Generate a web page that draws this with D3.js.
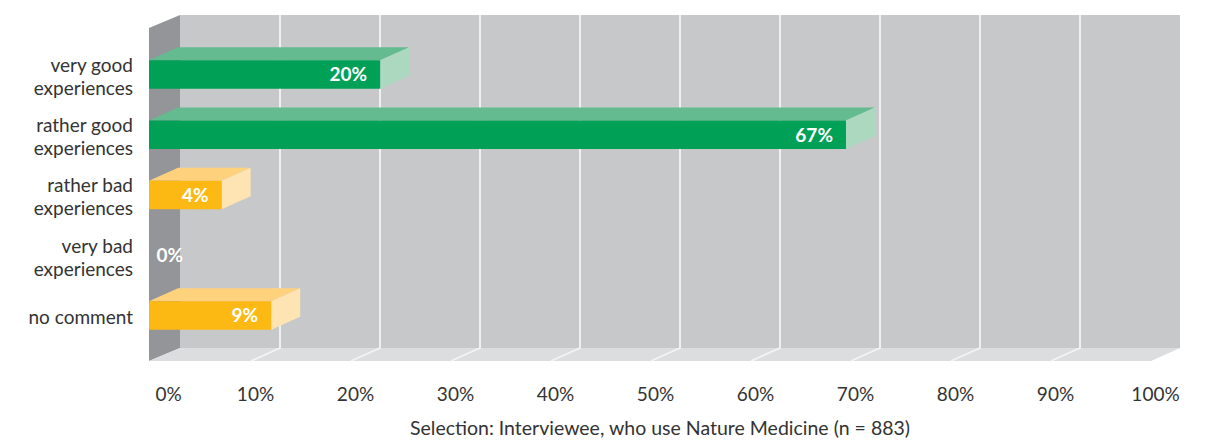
<!DOCTYPE html>
<html>
<head>
<meta charset="utf-8">
<script src="https://cdn.jsdelivr.net/npm/d3@7"></script>
<style>
  body { margin: 0; background: #fff; }
  svg text { font-family: Lato, "Open Sans", sans-serif; }
</style>
</head>
<body>
<div id="chart"></div>
<script>
// data
var categories = ["very good\nexperiences", "rather good\nexperiences", "rather bad\nexperiences", "very bad\nexperiences", "no comment"];
var values = [20, 67, 4, 0, 9];
var tones = ["good", "good", "bad", "bad", "bad"];
var ticks = [0, 10, 20, 30, 40, 50, 60, 70, 80, 90, 100];
var note = "Selection: Interviewee, who use Nature Medicine (n = 883)";

var W = 1208, H = 446;
var depth = {dx: 29, dy: 13};
var front = 149, wallTop = 15, floorBack = 348;

var colors = {
  good: {front: "#00a057", top: "#63bb8f", side: "#abd8bf"},
  bad:  {front: "#fdb913", top: "#fed27c", side: "#ffe4b3"}
};

var svg = d3.select("#chart").append("svg")
  .attr("width", W).attr("height", H);

// back wall scale (grid), bar scale and label scale
var x = d3.scaleLinear().domain([0, 100]).range([180, 1180]);
var xb = d3.scaleLinear().domain([0, 100]).range([182, 1173]);
var xl = d3.scaleLinear().domain([0, 100]).range([155, 1155]);
var y = d3.scalePoint().domain(categories).range([74.5, 315.5]);
var barH = 28.5;

// walls
svg.append("rect")
  .attr("x", x(0)).attr("y", wallTop)
  .attr("width", x(100) - x(0)).attr("height", floorBack - wallTop)
  .attr("fill", "#c7c8ca");

svg.append("polygon")
  .attr("points", [[front, wallTop + depth.dy], [x(0), wallTop], [x(0), floorBack], [front, floorBack + depth.dy]].join(" "))
  .attr("fill", "#939598");

svg.append("polygon")
  .attr("points", [[front, floorBack + depth.dy], [x(0), floorBack], [x(100), floorBack], [x(100) - depth.dx, floorBack + depth.dy]].join(" "))
  .attr("fill", "#dcddde");

// grid
var grid = ticks.slice(1, -1);
svg.selectAll(".grid").data(grid).enter().append("polyline")
  .attr("class", "grid")
  .attr("points", function(d) {
    return [[x(d), wallTop], [x(d), floorBack], [x(d) - depth.dx, floorBack + depth.dy]].join(" ");
  })
  .attr("fill", "none").attr("stroke", "#f4f4f4").attr("stroke-width", 1.8);

// bars
var bars = svg.selectAll(".bar").data(categories).enter().append("g").attr("class", "bar");

bars.filter(function(d, i) { return values[i] > 0; }).each(function(d) {
  var i = categories.indexOf(d);
  var g = d3.select(this);
  var c = colors[tones[i]];
  var y0 = y(d) - barH / 2, y1 = y(d) + barH / 2;
  var xe = xb(values[i]);
  g.append("polygon")
    .attr("points", [[front, y0], [xe, y0], [xe + depth.dx, y0 - depth.dy], [front + depth.dx, y0 - depth.dy]].join(" "))
    .attr("fill", c.top);
  g.append("polygon")
    .attr("points", [[xe, y0], [xe + depth.dx, y0 - depth.dy], [xe + depth.dx, y1 - depth.dy], [xe, y1]].join(" "))
    .attr("fill", c.side);
  g.append("rect")
    .attr("x", front).attr("y", y0)
    .attr("width", xe - front).attr("height", barH)
    .attr("fill", c.front);
});

bars.append("text")
  .attr("x", function(d, i) { return Math.max(xb(values[i]) - 13, 183); })
  .attr("y", function(d) { return y(d); })
  .attr("dy", "0.36em")
  .attr("text-anchor", "end")
  .attr("fill", "#fff")
  .attr("font-weight", "bold")
  .attr("font-size", 19)
  .text(function(d, i) { return values[i] + "%"; });

// category labels
var labels = svg.selectAll(".cat").data(categories).enter().append("text")
  .attr("class", "cat")
  .attr("text-anchor", "end")
  .attr("font-size", 19)
  .attr("fill", "#333");

labels.each(function(d) {
  var lines = d.split("\n");
  var t = d3.select(this);
  var c = y(d) + 2;
  lines.forEach(function(l, k) {
    t.append("tspan")
      .attr("x", 133)
      .attr("y", c + (k - (lines.length - 1) / 2) * 23)
      .attr("dy", "0.36em")
      .text(l);
  });
});

// x axis
var axis = svg.append("g")
  .attr("transform", "translate(0,394)")
  .call(d3.axisBottom(xl).tickValues(ticks).tickSize(0).tickPadding(0).tickFormat(function(d) { return d + "%"; }));
axis.select(".domain").remove();
axis.selectAll("text")
  .attr("y", 0).attr("dy", "0.36em")
  .attr("font-size", 19)
  .attr("font-family", "Lato, sans-serif")
  .attr("fill", "#333")
  .attr("dx", function(d) { return d === 0 ? 13 : 0; });

// footnote
svg.append("text")
  .attr("x", 660).attr("y", 435)
  .attr("text-anchor", "middle")
  .attr("font-size", 19.5)
  .attr("fill", "#333")
  .text(note);
</script>
</body>
</html>
